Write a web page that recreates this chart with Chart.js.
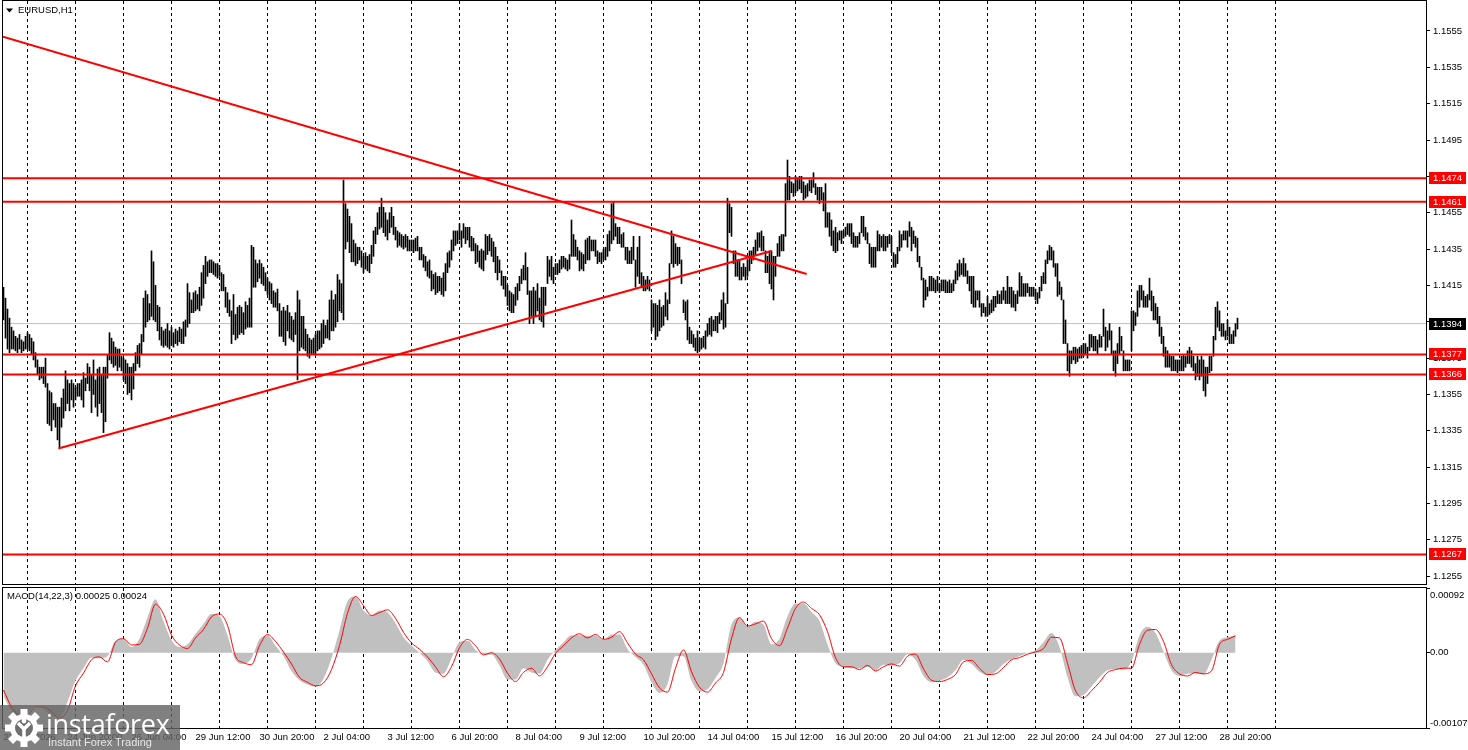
<!DOCTYPE html>
<html lang="en">
<head>
<meta charset="UTF-8">
<title>EURUSD,H1</title>
<style>
  html, body { margin: 0; padding: 0; background: #fff; }
  body { width: 1468px; height: 750px; position: relative; overflow: hidden; font-family: 'Liberation Sans', Arial, sans-serif; }
  #priceBox { position: absolute; left: 0; top: 0; width: 1468px; height: 586px; }
  #macdBox { position: absolute; left: 0; top: 586px; width: 1468px; height: 164px; }
  #logo { position: absolute; left: 0; top: 705px; width: 180px; height: 45px; background: rgba(100, 100, 100, 0.82); }
  #logo svg { position: absolute; left: 4px; top: 3px; }
  #logo .brand { position: absolute; left: 46px; top: 0px; font: 400 27px 'Open Sans', sans-serif; color: #fff; letter-spacing: -0.3px; }
  #logo .slogan { position: absolute; left: 48px; top: 31px; font: 11px 'Liberation Sans', Arial, sans-serif; color: #e6e6e6; }
</style>
<script src="https://cdn.jsdelivr.net/npm/chart.js"></script>
</head>
<body>
<div id="priceBox"><canvas id="price"></canvas></div>
<div id="macdBox"><canvas id="macd"></canvas></div>
<div id="logo">
  <svg width="40" height="40" viewBox="-20 -20 40 40">
    <g fill="#fff">
      <circle r="14"/>
      <rect x="-3.5" y="-19" width="7" height="8"/>
      <rect x="-3.5" y="-19" width="7" height="8" transform="rotate(45)"/>
      <rect x="-3.5" y="-19" width="7" height="8" transform="rotate(90)"/>
      <rect x="-3.5" y="-19" width="7" height="8" transform="rotate(135)"/>
      <rect x="-3.5" y="-19" width="7" height="8" transform="rotate(180)"/>
      <rect x="-3.5" y="-19" width="7" height="8" transform="rotate(225)"/>
      <rect x="-3.5" y="-19" width="7" height="8" transform="rotate(270)"/>
      <rect x="-3.5" y="-19" width="7" height="8" transform="rotate(315)"/>
    </g>
    <circle r="9" fill="#707070"/>
    <path d="M-6 -5 L0 1 L6 -5 M0 1 L0 9" stroke="#fff" stroke-width="3.5" fill="none"/>
    <circle cy="-7" r="2.4" fill="#fff"/>
  </svg>
  <div class="brand">instaforex</div>
  <div class="slogan">Instant Forex Trading</div>
</div>
<script>
  // H1 bars, high and low in pips above 1.1300 (bar 0 = 23 Jun 12:00)
  const BASE = 1.1300;
  const barHighPips = [
    114,108,102,97,92,90,87,86,88,85,84,87,89,88,86,84,78,74,70,70,
    70,75,61,57,56,50,50,48,48,53,58,68,63,61,63,61,59,61,61,63,
    67,64,72,70,66,74,63,69,70,66,70,70,77,89,86,84,81,80,80,76,
    75,74,72,70,70,72,78,82,83,88,108,112,110,105,134,128,115,104,103,92,
    90,91,94,90,92,89,91,90,92,91,95,96,116,111,107,111,112,110,114,122,
    126,131,128,129,129,128,127,127,126,122,121,114,111,107,101,110,99,103,104,103,
    100,106,104,108,137,136,129,127,129,127,125,122,119,117,116,112,111,113,105,101,
    103,101,104,100,98,96,100,112,107,98,98,91,88,86,85,86,88,90,90,94,
    96,93,96,107,112,107,110,121,118,116,173,160,157,153,149,140,138,136,136,134,
    131,133,131,132,137,145,147,155,158,163,158,155,151,155,158,153,147,145,144,143,
    142,143,142,140,140,140,141,142,136,136,132,131,128,129,123,121,122,120,120,119,
    122,127,133,134,140,145,145,145,149,145,149,147,147,147,142,141,138,137,134,135,
    134,143,142,143,141,139,136,131,129,123,120,120,115,112,111,110,114,116,120,124,
    126,133,125,112,112,114,112,116,108,114,114,114,131,129,131,125,127,127,129,131,
    131,130,129,132,151,143,140,136,134,133,132,140,141,142,140,140,140,134,133,133,
    135,136,143,145,160,161,149,147,147,143,144,136,136,134,136,142,129,136,142,122,
    120,118,120,118,107,105,105,104,107,103,104,111,107,127,145,142,138,136,136,129,
    107,106,107,92,90,88,86,90,86,86,87,90,94,97,98,96,98,98,100,107,
    111,105,163,160,158,134,134,129,129,125,127,125,129,134,134,136,140,144,144,145,
    142,134,131,134,134,131,131,138,142,143,143,171,184,175,172,171,175,174,175,175,
    172,170,171,173,173,177,171,169,169,169,166,171,155,155,151,145,147,144,145,145,
    145,147,149,149,149,144,142,142,144,153,153,147,144,138,136,136,136,145,143,142,
    143,142,142,143,142,133,132,136,145,143,145,145,145,150,147,145,142,141,131,125,
    119,118,114,120,120,119,118,120,116,118,118,118,117,118,116,118,123,127,129,127,
    130,127,123,120,120,120,112,112,112,105,105,103,109,105,107,109,109,112,110,112,
    114,112,120,114,114,112,110,112,122,120,116,116,116,114,114,114,113,111,114,120,
    122,129,134,137,136,134,127,127,117,114,107,96,83,79,79,81,81,80,81,82,
    83,83,81,88,88,87,87,85,88,87,102,92,90,94,90,79,79,83,92,87,
    79,74,74,74,101,101,100,112,115,115,112,109,110,119,112,109,105,103,98,92,
    87,81,79,77,76,76,74,74,74,76,77,76,79,81,79,76,72,76,74,76,
    74,70,70,76,76,87,103,106,101,94,94,90,96,92,88,90,94,97
  ];
  const barLowPips = [
    96,86,80,78,80,80,79,78,80,78,79,80,80,79,77,74,70,66,63,64,
    61,59,39,38,35,41,37,30,26,37,42,46,50,46,52,48,52,54,54,52,
    48,57,61,57,45,55,48,43,50,45,34,40,64,74,72,70,71,68,70,68,
    63,61,55,56,52,58,68,72,70,77,84,92,95,96,98,96,95,90,85,82,
    81,82,81,80,82,81,83,82,84,83,83,87,92,94,100,100,101,102,101,104,
    108,116,120,122,122,121,120,119,120,112,112,103,100,98,83,88,85,86,88,89,
    88,91,92,92,92,114,114,117,119,116,115,112,110,107,105,103,103,101,87,87,
    84,82,90,86,85,84,88,63,79,81,80,79,76,75,77,77,77,79,80,81,
    83,86,86,85,90,90,92,95,101,100,96,135,139,133,128,128,126,127,129,125,
    122,124,123,122,127,131,138,143,146,147,144,142,140,144,147,143,140,136,137,136,
    135,136,134,134,134,133,134,134,129,129,125,123,120,119,112,113,110,111,112,110,
    109,112,122,125,129,134,137,138,140,136,141,138,140,136,134,134,127,128,125,124,
    123,129,132,134,131,128,122,118,122,115,113,109,104,101,100,100,104,107,112,116,
    118,118,110,94,98,94,98,101,96,95,92,104,116,120,118,116,121,121,122,124,
    125,124,123,124,131,131,131,129,123,124,123,127,129,129,134,134,131,127,128,127,
    129,129,131,134,138,140,142,138,138,136,136,129,127,127,127,129,114,120,116,114,
    112,112,113,112,90,92,85,87,90,92,93,98,96,105,127,125,127,126,127,116,
    100,96,85,83,83,81,79,78,79,80,81,80,87,88,87,90,90,89,94,96,
    91,92,105,144,142,127,120,120,118,118,120,118,120,123,127,129,132,134,136,134,
    134,122,122,116,113,107,120,131,131,134,134,142,162,162,166,164,166,167,168,166,
    162,163,164,167,166,169,165,162,160,162,156,147,147,142,137,134,133,134,140,138,
    141,142,143,142,138,136,136,136,138,144,142,140,138,127,125,125,125,134,134,136,
    134,134,136,138,133,125,125,127,134,136,140,140,136,142,134,138,136,128,125,118,
    103,107,109,112,112,112,111,112,111,112,112,111,111,111,111,112,116,118,120,121,
    120,120,116,112,105,103,103,107,103,98,100,98,98,99,100,101,103,105,105,105,
    107,105,105,105,103,103,101,105,109,109,109,109,111,109,109,109,107,105,108,112,
    116,116,127,129,129,125,120,109,110,107,83,83,68,65,72,74,72,73,75,75,
    76,77,75,79,81,79,79,77,81,81,87,79,81,85,77,68,65,72,77,79,
    68,68,68,68,79,90,93,98,103,107,103,103,103,107,101,96,96,94,87,83,
    76,70,70,70,68,68,68,67,68,68,68,70,72,72,70,68,63,65,63,65,
    57,54,61,67,68,76,85,92,90,87,87,85,87,83,83,83,87,91
  ];

  // MACD(14,22,3), one reading every 4 bars, in units of 0.00001
  const macdStep = 4;
  const macdHist = [
    -62,-83,-92,-86,-76,-80,-90,-92,-70,-40,
    -22,-7,-8,-5,17,20,8,20,50,76,
    45,18,8,12,27,41,55,52,25,-10,
    -16,-8,19,25,10,-5,-26,-39,-45,-48,
    -37,-8,32,73,80,60,53,60,57,42,
    22,10,0,-12,-28,-30,-8,15,17,4,
    -3,-3,-18,-38,-38,-22,-28,-30,-10,4,
    15,25,25,24,24,18,26,26,5,-6,
    -17,-42,-57,-45,-5,-5,-40,-55,-52,-36,
    -15,40,50,37,44,40,12,20,52,70,
    70,58,45,12,-15,-20,-22,-22,-20,-25,
    -17,-18,-15,-2,-10,-33,-42,-40,-35,-25,
    -10,-16,-27,-32,-27,-16,-9,-5,0,3,
    15,28,8,-35,-62,-60,-48,-35,-25,-23,
    -24,-12,25,37,28,2,-25,-33,-30,-29,
    -31,-10,17,22,25
  ];
  const macdSignal = [
    -53,-77,-88,-88,-77,-77,-84,-93,-82,-47,
    -29,-10,-6,-13,15,20,11,12,35,69,
    55,25,11,6,21,33,51,55,39,-5,
    -14,-17,10,26,16,1,-16,-35,-42,-47,
    -43,-24,10,56,80,67,53,57,61,49,
    29,14,5,-6,-20,-34,-20,7,19,10,
    -3,0,-9,-29,-41,-28,-22,-33,-20,-1,
    10,21,27,21,26,19,22,30,14,-2,
    -10,-30,-50,-56,-22,4,-27,-49,-56,-43,
    -28,20,50,38,41,45,20,10,35,63,
    72,63,54,30,-7,-20,-20,-24,-18,-26,
    -20,-16,-19,-5,-2,-23,-39,-41,-38,-31,
    -13,-11,-22,-31,-30,-21,-10,-7,-2,1,
    6,22,21,-15,-54,-64,-54,-42,-28,-24,
    -22,-22,12,32,33,16,-17,-30,-33,-28,
    -30,-26,12,19,24
  ];

  // drawn levels and trend lines
  const levels = [1.1474, 1.1461, 1.1377, 1.1366, 1.1267];
  const lastPrice = 1.1394;
  const downTrend = [[-0.25, 1.15519], [401.6, 1.14213]];
  const upTrend = [[27.4, 1.13253], [384.1, 1.14339]];

  // axes
  const priceMin = 1.12507, priceMax = 1.15715;
  const priceTicks = [1.1255, 1.1275, 1.1295, 1.1315, 1.1335, 1.1355, 1.1375, 1.1395,
                      1.1415, 1.1435, 1.1455, 1.1475, 1.1495, 1.1515, 1.1535, 1.1555];
  const macdMin = -0.00107, macdMax = 0.00092;
  const macdTicks = [0.00092, 0, -0.00107];
  const macdTickLabels = ['0.00092', '0.00', '-0.00107'];
  const xMin = -0.25, xMax = 711.25;
  const dayStarts = [12, 36, 60, 84, 108, 132, 156, 180, 204, 228, 252, 276, 300, 324,
                     348, 372, 396, 420, 444, 468, 492, 516, 540, 564, 588, 612, 636];
  const timeLabelBars = [0, 32, 64, 96, 128, 160, 192, 224, 256, 288, 320, 352, 384, 416,
                         448, 480, 512, 544, 576, 608];
  const timeLabels = ['23 Jun 2026', '24 Jun 20:00', '26 Jun 04:00', '29 Jun 12:00', '30 Jun 20:00',
                      '2 Jul 04:00', '3 Jul 12:00', '6 Jul 20:00', '8 Jul 04:00', '9 Jul 12:00',
                      '10 Jul 20:00', '14 Jul 04:00', '15 Jul 12:00', '16 Jul 20:00', '20 Jul 04:00',
                      '21 Jul 12:00', '22 Jul 20:00', '24 Jul 04:00', '27 Jul 12:00', '28 Jul 20:00'];

  const FONT = "'Liberation Sans', Arial, sans-serif";
  Chart.defaults.font.family = FONT;
  Chart.defaults.font.size = 9.5;
  Chart.defaults.color = '#000';

  const toPrice = p => BASE + p / 10000;
  const flatLine = v => [{ x: xMin, y: v }, { x: xMax, y: v }];
  const segment = pts => pts.map(p => ({ x: p[0], y: p[1] }));

  const lineStyle = { type: 'line', pointRadius: 0, fill: false, tension: 0 };

  // keep the axes from reserving room for half-labels at the ends
  const fixWidth = w => s => { s.width = w; s.paddingTop = 0; s.paddingBottom = 0; };
  const fixHeight = h => s => { s.height = h; s.paddingLeft = 0; s.paddingRight = 0; };

  const priceDecor = {
    id: 'priceDecor',
    afterDraw(chart) {
      const { ctx, chartArea: a } = chart;
      const ys = chart.scales.y;
      ctx.save();
      ctx.strokeStyle = '#000';
      ctx.lineWidth = 1;
      ctx.strokeRect(a.left - 0.5, a.top - 0.5, a.right - a.left + 1, a.bottom - a.top + 1);

      // symbol caption
      ctx.fillStyle = '#000';
      ctx.beginPath();
      ctx.moveTo(6, 8.5); ctx.lineTo(13, 8.5); ctx.lineTo(9.5, 12.5);
      ctx.closePath();
      ctx.fill();
      ctx.font = '9.5px ' + FONT;
      ctx.textBaseline = 'middle';
      ctx.fillText('EURUSD,H1', 18, 10.5);

      // price tags on the scale
      const tag = (v, color) => {
        const y = Math.round(ys.getPixelForValue(v));
        ctx.fillStyle = color;
        ctx.fillRect(a.right + 3, y - 6, 37, 12);
        ctx.fillStyle = '#fff';
        ctx.fillText(v.toFixed(4), a.right + 7, y + 0.5);
      };
      levels.forEach(v => tag(v, '#ff0000'));
      tag(lastPrice, '#000');
      ctx.restore();
    }
  };

  new Chart(document.getElementById('price'), {
    type: 'line',
    data: {
      datasets: [
        ...levels.map(v => ({ ...lineStyle, data: flatLine(v), borderColor: '#ff0000', borderWidth: 2, order: 0 })),
        { ...lineStyle, data: segment(downTrend), borderColor: '#ff0000', borderWidth: 2, order: 0 },
        { ...lineStyle, data: segment(upTrend), borderColor: '#ff0000', borderWidth: 2, order: 0 },
        { ...lineStyle, data: flatLine(lastPrice), borderColor: '#c0c0c0', borderWidth: 1, order: 3 },
        {
          type: 'bar',
          data: barHighPips.map((h, i) => ({ x: i, y: [toPrice(barLowPips[i]), toPrice(h)] })),
          backgroundColor: '#000',
          borderWidth: 0,
          barThickness: 1,
          grouped: false,
          order: 2
        }
      ]
    },
    options: {
      responsive: true,
      maintainAspectRatio: false,
      animation: false,
      events: [],
      layout: { padding: { left: 3, top: 1, right: 0, bottom: 2 } },
      plugins: { legend: { display: false }, tooltip: { enabled: false } },
      scales: {
        x: {
          type: 'linear', min: xMin, max: xMax, offset: false,
          afterBuildTicks: s => { s.ticks = dayStarts.map(v => ({ value: v })); },
          afterFit: fixHeight(0),
          ticks: { display: false },
          grid: { color: '#000', lineWidth: 1, drawTicks: false, offset: false },
          border: { display: false, dash: [3, 3] }
        },
        y: {
          type: 'linear', position: 'right', min: priceMin, max: priceMax, bounds: 'data',
          afterBuildTicks: s => { s.ticks = priceTicks.map(v => ({ value: v })); },
          afterFit: fixWidth(42),
          ticks: { padding: 3, autoSkip: false, color: '#000', callback: v => v.toFixed(4) },
          grid: { drawOnChartArea: false, drawTicks: true, tickLength: 4, tickColor: '#000' },
          border: { display: true, color: '#000' }
        }
      }
    },
    plugins: [priceDecor]
  });

  const macdDecor = {
    id: 'macdDecor',
    afterDraw(chart) {
      const { ctx, chartArea: a } = chart;
      const ys = chart.scales.y;
      ctx.save();
      ctx.strokeStyle = '#000';
      ctx.lineWidth = 1;
      ctx.strokeRect(a.left - 0.5, a.top - 0.5, a.right - a.left + 1, a.bottom - a.top + 1);
      ctx.fillStyle = '#000';
      ctx.font = '9.5px ' + FONT;
      ctx.textBaseline = 'middle';
      const n = macdHist.length - 1;
      ctx.fillText('MACD(14,22,3) ' + (macdHist[n] / 1e5).toFixed(5) + ' ' + (macdSignal[n] / 1e5).toFixed(5), 7, a.top + 8);
      macdTicks.forEach((v, k) => {
        const y = Math.min(Math.max(ys.getPixelForValue(v), a.top + 7), a.bottom - 5);
        ctx.fillText(macdTickLabels[k], a.right + 4, y);
      });
      ctx.restore();
    }
  };

  new Chart(document.getElementById('macd'), {
    type: 'line',
    data: {
      datasets: [
        {
          ...lineStyle,
          data: macdHist.map((v, j) => ({ x: j * macdStep, y: v / 1e5 })),
          fill: 'origin',
          backgroundColor: '#c0c0c0',
          borderColor: 'transparent',
          borderWidth: 0,
          cubicInterpolationMode: 'monotone',
          order: 2
        },
        {
          ...lineStyle,
          data: macdSignal.map((v, j) => ({ x: j * macdStep, y: v / 1e5 })),
          borderColor: '#ff0000',
          borderWidth: 1,
          cubicInterpolationMode: 'monotone',
          order: 1
        }
      ]
    },
    options: {
      responsive: true,
      maintainAspectRatio: false,
      animation: false,
      events: [],
      layout: { padding: { left: 3, top: 2, right: 0, bottom: 0 } },
      plugins: { legend: { display: false }, tooltip: { enabled: false } },
      scales: {
        x: {
          type: 'linear', min: xMin, max: xMax, offset: false,
          afterBuildTicks: s => { s.ticks = dayStarts.map(v => ({ value: v })); },
          afterFit: fixHeight(0),
          ticks: { display: false },
          grid: { color: '#000', lineWidth: 1, drawTicks: false, offset: false },
          border: { display: false, dash: [3, 3] }
        },
        x2: {
          type: 'linear', position: 'bottom', min: xMin, max: xMax, offset: false,
          afterBuildTicks: s => { s.ticks = timeLabelBars.map(v => ({ value: v })); },
          afterFit: fixHeight(22),
          ticks: { autoSkip: false, maxRotation: 0, align: 'start', padding: 4, color: '#000',
                   callback: (v, k) => timeLabels[k] },
          grid: { display: false, drawTicks: false, drawOnChartArea: false },
          border: { display: false }
        },
        y: {
          type: 'linear', position: 'right', min: macdMin, max: macdMax, bounds: 'data',
          afterBuildTicks: s => { s.ticks = macdTicks.map(v => ({ value: v })); },
          afterFit: fixWidth(42),
          ticks: { display: false },
          grid: { drawOnChartArea: false, drawTicks: true, tickLength: 4, tickColor: '#000' },
          border: { display: true, color: '#000' }
        }
      }
    },
    plugins: [macdDecor]
  });
</script>
</body>
</html>
